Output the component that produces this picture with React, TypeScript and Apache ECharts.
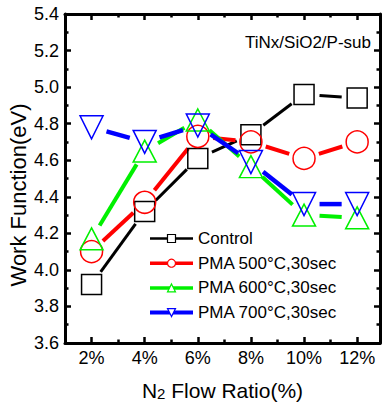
import React, { useEffect, useRef } from 'react';
import * as echarts from 'echarts';

const FONT = "'Liberation Sans', Arial, sans-serif";

const xValues = [2, 4, 6, 8, 10, 12];
const controlWF = [3.92, 4.32, 4.61, 4.74, 4.96, 4.94];
const pma500WF = [4.10, 4.37, 4.73, 4.70, 4.61, 4.70];
const pma600WF = [4.17, 4.65, 4.82, 4.565, 4.30, 4.285];
const pma700WF = [4.78, 4.70, 4.79, 4.59, 4.36, 4.36];

const seriesNames = ['Control', 'PMA 500°C,30sec', 'PMA 600°C,30sec', 'PMA 700°C,30sec'];
const seriesColors = ['#000000', '#ff0000', '#00f000', '#0000ff'];
const majorXTicks = [2, 4, 6, 8, 10, 12];
const minorXTicks = [3, 5, 7, 9, 11];

export default function App() {
  const ref = useRef<HTMLDivElement>(null);
  useEffect(() => {
    if (!ref.current) return;
    const chart = echarts.init(ref.current, null, { renderer: 'svg' });

    const allValues = [controlWF, pma500WF, pma600WF, pma700WF];
    const symbols = ['rect', 'circle', 'triangle', 'triangle'];
    const sizes: any[] = [20, 22, [23, 22], [23, 23]];
    const rotates = [0, 0, 0, 180];
    const lineWidths = [3, 4, 4, 4.5];
    const gaps = [15.5, 15.5, 15.5, 15.5];

    const symbolSeries = allValues.map((vals, k) => ({
      type: 'line',
      name: seriesNames[k],
      xAxisIndex: 0,
      yAxisIndex: 0,
      data: xValues.map((x, i) => [x, vals[i]]),
      symbol: symbols[k],
      symbolSize: sizes[k],
      symbolRotate: rotates[k],
      showSymbol: true,
      lineStyle: { color: seriesColors[k], width: 2, opacity: 0 },
      itemStyle: { color: 'rgba(255,255,255,0)', borderColor: seriesColors[k], borderWidth: 1.5 },
      z: 4,
      silent: true,
    }));

    const segSeries = allValues.map((vals, k) => {
      const segs: number[][] = [];
      for (let i = 0; i < xValues.length - 1; i++) {
        segs.push([xValues[i], vals[i], xValues[i + 1], vals[i + 1]]);
      }
      return {
        type: 'custom',
        name: 'seg' + k,
        xAxisIndex: 0,
        yAxisIndex: 0,
        silent: true,
        z: 3,
        data: segs,
        encode: { x: [0, 2], y: [1, 3] },
        renderItem: (params: any, api: any) => {
          const p1 = api.coord([api.value(0), api.value(1)]);
          const p2 = api.coord([api.value(2), api.value(3)]);
          const dx = p2[0] - p1[0];
          const dy = p2[1] - p1[1];
          const len = Math.sqrt(dx * dx + dy * dy);
          const g = gaps[k];
          if (len <= 2 * g + 2) return null;
          const ux = dx / len;
          const uy = dy / len;
          return {
            type: 'line',
            shape: { x1: p1[0] + ux * g, y1: p1[1] + uy * g, x2: p2[0] - ux * g, y2: p2[1] - uy * g },
            style: { stroke: seriesColors[k], lineWidth: lineWidths[k], lineCap: 'butt' },
          };
        },
      };
    });

    const xBase = { type: 'value', min: 1, max: 12.86, gridIndex: 0, splitLine: { show: false } };
    const axisLineStyle = { show: true, onZero: false, lineStyle: { color: '#000', width: 3 } };

    const option: any = {
      animation: false,
      backgroundColor: '#fff',
      textStyle: { fontFamily: FONT },
      grid: { left: 65, right: 4, top: 14, bottom: 63, containLabel: false },
      xAxis: [
        {
          ...xBase,
          position: 'bottom',
          axisLine: axisLineStyle,
          axisTick: { show: true, inside: true, length: 6, customValues: majorXTicks, lineStyle: { color: '#000', width: 2.5 } },
          axisLabel: { show: true, customValues: majorXTicks, formatter: '{value}%', fontSize: 18, color: '#000', fontFamily: FONT, margin: 6 },
          name: '{a|N}{b|2}{a| Flow Ratio(%)}',
          nameLocation: 'middle',
          nameGap: 34,
          nameTextStyle: {
            fontFamily: FONT,
            color: '#000',
            rich: {
              a: { fontSize: 21, fontFamily: FONT, color: '#000', lineHeight: 21 },
              b: { fontSize: 15, fontFamily: FONT, color: '#000', lineHeight: 15, verticalAlign: 'bottom', padding: [14, 0, 0, 0] },
            },
          },
        },
        {
          ...xBase,
          position: 'bottom',
          axisLine: { show: false },
          axisTick: { show: true, inside: true, length: 3.5, customValues: minorXTicks, lineStyle: { color: '#000', width: 2.5 } },
          axisLabel: { show: false },
        },
        {
          ...xBase,
          position: 'top',
          axisLine: axisLineStyle,
          axisTick: { show: true, inside: true, length: 6, customValues: majorXTicks, lineStyle: { color: '#000', width: 2.5 } },
          axisLabel: { show: false },
        },
        {
          ...xBase,
          position: 'top',
          axisLine: { show: false },
          axisTick: { show: true, inside: true, length: 3.5, customValues: minorXTicks, lineStyle: { color: '#000', width: 2.5 } },
          axisLabel: { show: false },
        },
      ],
      yAxis: [
        {
          type: 'value',
          position: 'left',
          min: 3.6,
          max: 5.4,
          interval: 0.2,
          splitLine: { show: false },
          axisLine: axisLineStyle,
          axisTick: { show: true, inside: true, length: 6, lineStyle: { color: '#000', width: 2.5 } },
          minorTick: { show: true, splitNumber: 2, length: 3.5, lineStyle: { color: '#000', width: 2.5 } },
          axisLabel: { formatter: (v: number) => v.toFixed(1), fontSize: 18, color: '#000', fontFamily: FONT, margin: 6 },
        },
        {
          type: 'value',
          position: 'right',
          min: 3.6,
          max: 5.4,
          interval: 0.2,
          splitLine: { show: false },
          axisLine: axisLineStyle,
          axisTick: { show: true, inside: true, length: 6, lineStyle: { color: '#000', width: 2.5 } },
          minorTick: { show: true, splitNumber: 2, length: 3.5, lineStyle: { color: '#000', width: 2.5 } },
          axisLabel: { show: false },
        },
      ],
      legend: {
        orient: 'vertical',
        left: 143,
        top: 225,
        itemWidth: 43,
        itemHeight: 10,
        itemGap: 7.7,
        selectedMode: false,
        textStyle: { fontSize: 17, color: '#000', fontFamily: FONT, lineHeight: 17 },
        data: seriesNames.map((n, k) => ({
          name: n,
          itemStyle: { color: '#ffffff', borderColor: seriesColors[k], borderWidth: 1.2 },
          lineStyle: { width: lineWidths[k] - 0.5, color: seriesColors[k], opacity: 1 },
        })),
      },
      graphic: [
        {
          type: 'text',
          right: 13,
          top: 34,
          style: { text: 'TiNx/SiO2/P-sub', fontSize: 17, fill: '#000', fontFamily: FONT },
        },
        {
          type: 'text',
          x: 18,
          y: 195,
          rotation: Math.PI / 2,
          style: { text: 'Work Function(eV)', fontSize: 22, fill: '#000', fontFamily: FONT, align: 'center', verticalAlign: 'middle' },
        },
      ],
      series: [...segSeries, ...symbolSeries],
    };

    chart.setOption(option);
    return () => chart.dispose();
  }, []);

  return <div ref={ref} style={{ position: 'fixed', left: 0, top: 0, width: 384, height: 406 }} />;
}
